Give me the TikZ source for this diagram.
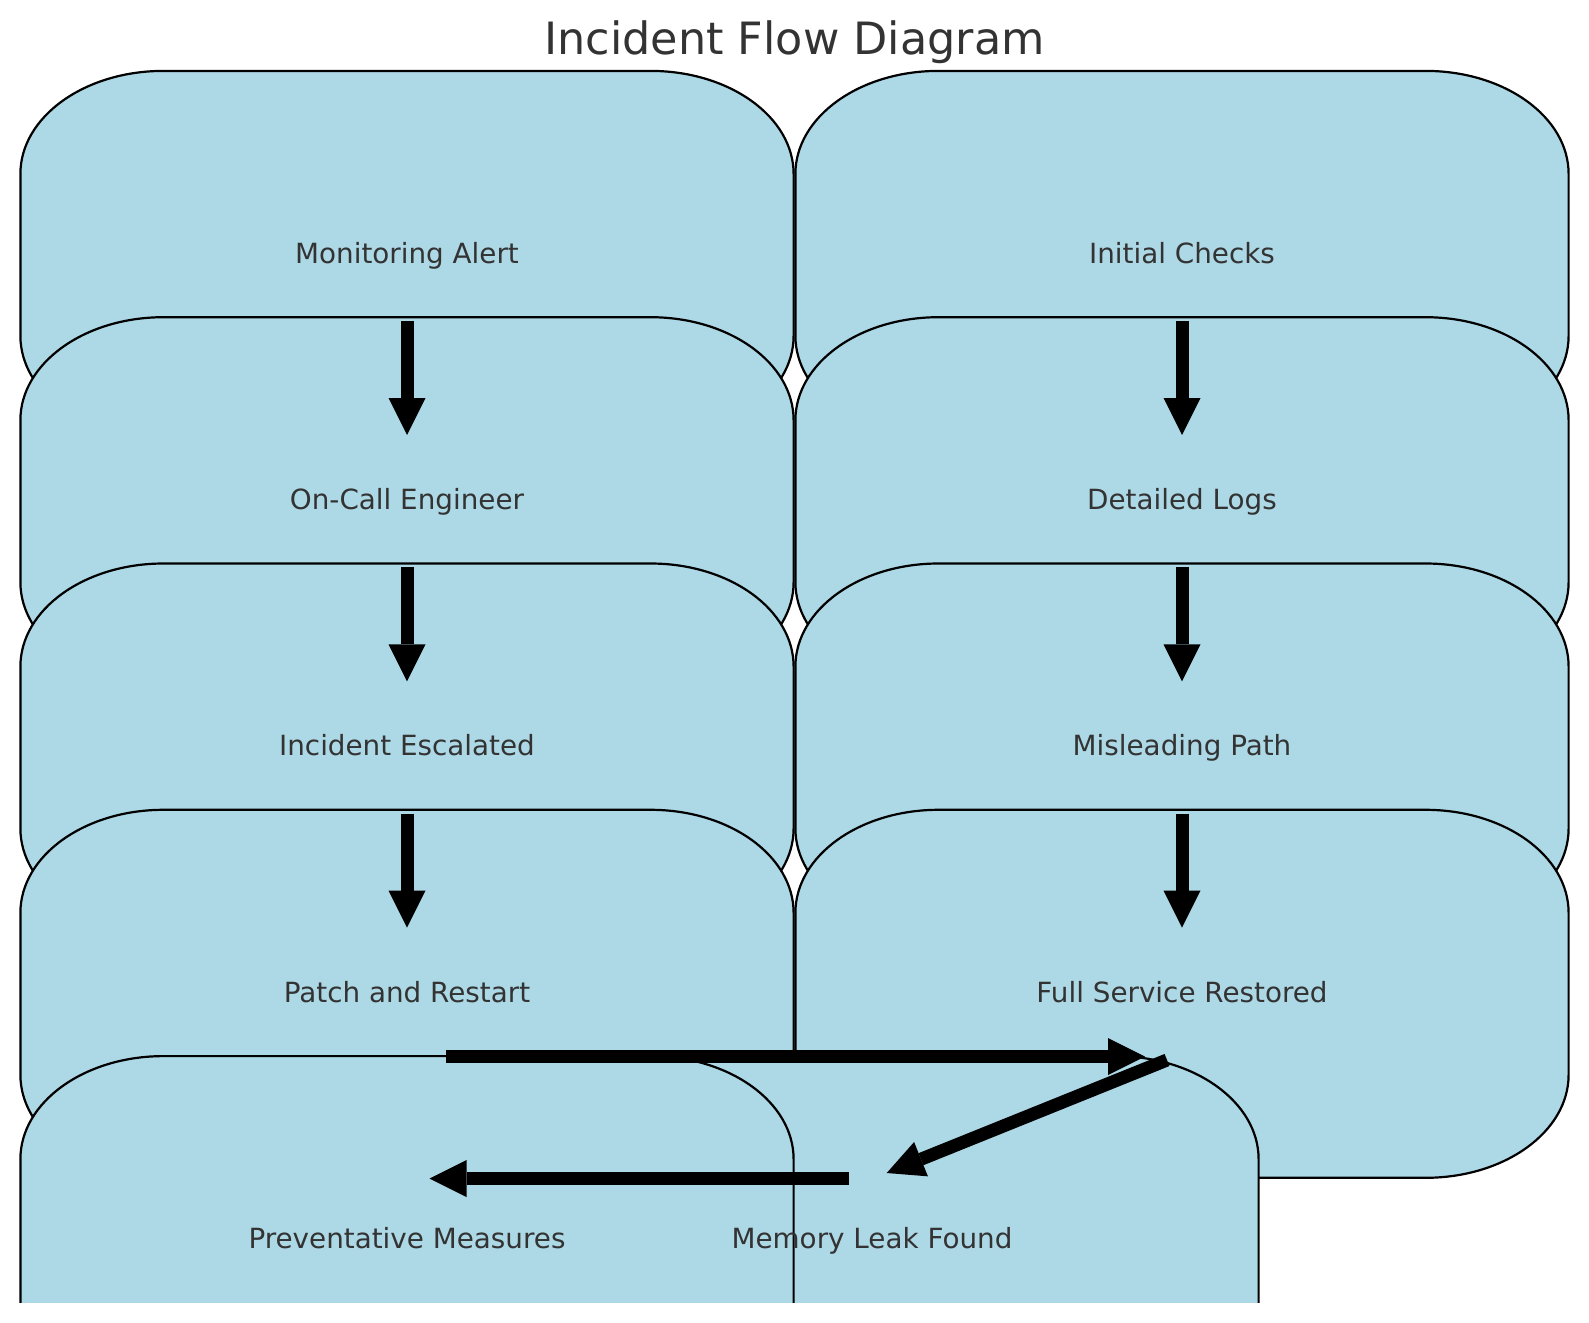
\documentclass[tikz,border=0pt]{standalone}
\usepackage{fontspec}
\setmainfont{DejaVu Sans}
\usetikzlibrary{arrows.meta}
\definecolor{boxfill}{HTML}{ADD8E6}
\definecolor{txt}{HTML}{333333}
\tikzset{
  boxline/.style={fill=boxfill, draw=black, line width=2.2pt},
  ebox/.pic={
    \path[boxline] (-243.6,0) -- (243.6,0)
      .. controls (322.6,0) and (386.6,46.1) .. (386.6,103)
      -- (386.6,265)
      .. controls (386.6,321.9) and (322.6,368) .. (243.6,368)
      -- (-243.6,368)
      .. controls (-322.6,368) and (-386.6,321.9) .. (-386.6,265)
      -- (-386.6,103)
      .. controls (-386.6,46.1) and (-322.6,0) .. cycle;
  },
  lbl/.style={anchor=base, text=txt, inner sep=0pt, font=\fontsize{27.8}{33}\selectfont},
  ttl/.style={anchor=base, text=txt, inner sep=0pt, font=\fontsize{44.5}{52}\selectfont},
  arr/.style={line width=13pt, draw=black, -{Triangle[length=37pt,width=37pt,line width=0pt]}},
}
\begin{document}
\begin{tikzpicture}[x=1pt,y=-1pt]
\useasboundingbox (0,0) rectangle (1589,1322);
\fill[white] (0,0) rectangle (1589,1322);
\clip (0,0) rectangle (1589,1302);
% boxes, in drawing order
\pic at (407,70.9) {ebox};
\pic at (407,317.2) {ebox};
\pic at (407,563.5) {ebox};
\pic at (407,809.8) {ebox};
\pic at (1182,70.9) {ebox};
\pic at (1182,317.2) {ebox};
\pic at (1182,563.5) {ebox};
\pic at (1182,809.8) {ebox};
\pic at (872,1056.1) {ebox};
\pic at (407,1056.1) {ebox};
% title
\node[ttl] (title) at (794.5,54.5) {Incident Flow Diagram};
% labels
\node[lbl] (ma) at (407,263.3) {Monitoring Alert};
\node[lbl] (oc) at (407,509.6) {On-Call Engineer};
\node[lbl] (ie) at (407,755.9) {Incident Escalated};
\node[lbl] (pr) at (407,1002.2) {Patch and Restart};
\node[lbl] (pm) at (407,1248.5) {Preventative Measures};
\node[lbl] (ic) at (1182,263.3) {Initial Checks};
\node[lbl] (dl) at (1182,509.6) {Detailed Logs};
\node[lbl] (mp) at (1182,755.9) {Misleading Path};
\node[lbl] (fs) at (1182,1002.2) {Full Service Restored};
\node[lbl] (ml) at (872,1248.5) {Memory Leak Found};
% connectors
\draw[arr] ([yshift=-57.7pt]ma.base) -- ([yshift=74.6pt]oc.base);
\draw[arr] ([yshift=-57.7pt]oc.base) -- ([yshift=74.6pt]ie.base);
\draw[arr] ([yshift=-57.7pt]ie.base) -- ([yshift=74.6pt]pr.base);
\draw[arr] ([yshift=-57.7pt]ic.base) -- ([yshift=74.6pt]dl.base);
\draw[arr] ([yshift=-57.7pt]dl.base) -- ([yshift=74.6pt]mp.base);
\draw[arr] ([yshift=-57.7pt]mp.base) -- ([yshift=74.6pt]fs.base);
\draw[arr] ([xshift=39pt,yshift=-54.3pt]pr.base) -- ([xshift=-37pt,yshift=-54.3pt]fs.base);
\draw[arr] ([xshift=-15pt,yshift=-57.8pt]fs.base) -- ([xshift=14.7pt,yshift=75.5pt]ml.base);
\draw[arr] ([xshift=-23pt,yshift=70pt]ml.base) -- ([xshift=22.5pt,yshift=70pt]pm.base);
\end{tikzpicture}
\end{document}
